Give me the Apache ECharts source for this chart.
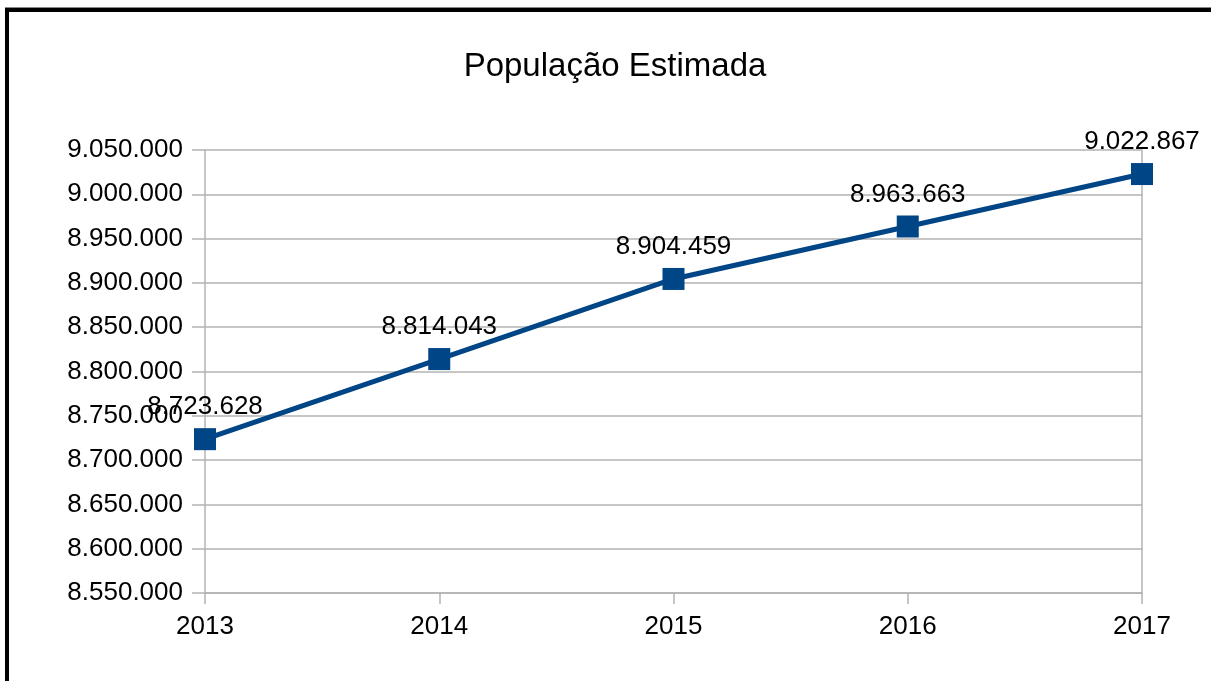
<!DOCTYPE html>
<html>
<head>
<meta charset="utf-8">
<title>População Estimada</title>
<script src="https://cdn.jsdelivr.net/npm/echarts@6/dist/echarts.min.js"></script>
<style>
  html, body { margin: 0; padding: 0; background: #fff; }
  #chart { width: 1211px; height: 681px; }
</style>
</head>
<body>
<div id="chart"></div>
<script>
// dados
var anos = ['2013', '2014', '2015', '2016', '2017'];
var populacao = [8723628, 8814043, 8904459, 8963663, 9022867];
var yMin = 8550000;
var yMax = 9050000;
var yPasso = 50000;

// 8723628 -> 8.723.628
function fmt(v) {
  return String(v).replace(/\B(?=(\d{3})+(?!\d))/g, '.');
}

var dom = document.getElementById('chart');
var myChart = echarts.init(dom);
var fonte = '"Liberation Sans", Arial, sans-serif';
var cinza = '#b3b3b3';

var option = {
  animation: false,
  backgroundColor: '#fff',
  title: {
    text: 'População Estimada',
    left: 610,
    top: 45,
    textAlign: 'center',
    textStyle: { fontFamily: fonte, fontSize: 33, fontWeight: 'normal', color: '#000' }
  },
  graphic: [
    { type: 'rect', shape: { x: 5, y: 7, width: 1206, height: 1 }, style: { fill: '#888' } },
    { type: 'rect', shape: { x: 5, y: 8, width: 1206, height: 4 }, style: { fill: '#000' } },
    { type: 'rect', shape: { x: 5, y: 8, width: 4, height: 673 }, style: { fill: '#000' } }
  ],
  grid: { left: 205, right: 69, top: 150, bottom: 88 },
  xAxis: {
    type: 'category',
    data: anos,
    boundaryGap: false,
    axisLine: { lineStyle: { color: cinza, width: 1.5 } },
    axisTick: { show: true, length: 11, lineStyle: { color: cinza, width: 1.5 } },
    axisLabel: { margin: 21, fontFamily: fonte, fontSize: 26, color: '#000' },
    splitLine: { show: false }
  },
  yAxis: [
    {
      type: 'value',
      min: yMin,
      max: yMax,
      interval: yPasso,
      axisLine: { show: true, lineStyle: { color: cinza, width: 1.5 } },
      axisTick: { show: true, length: 13, lineStyle: { color: cinza, width: 1.5 } },
      axisLabel: { margin: 22, fontFamily: fonte, fontSize: 26, color: '#000', formatter: fmt },
      splitLine: { show: true, lineStyle: { color: cinza, width: 1.5 } }
    },
    {
      type: 'value',
      position: 'right',
      min: yMin,
      max: yMax,
      interval: yPasso,
      axisLine: { show: true, lineStyle: { color: cinza, width: 1.5 } },
      axisTick: { show: false },
      axisLabel: { show: false },
      splitLine: { show: false }
    }
  ],
  series: [
    {
      type: 'line',
      data: populacao,
      symbol: 'rect',
      symbolSize: 22,
      itemStyle: { color: '#004586' },
      lineStyle: { color: '#004586', width: 5 },
      label: {
        show: true,
        position: 'top',
        distance: 8,
        fontFamily: fonte,
        fontSize: 26,
        color: '#000',
        formatter: function (p) { return fmt(p.value); }
      }
    }
  ]
};

if (option && typeof option === 'object') {
  myChart.setOption(option);
}
</script>
</body>
</html>
